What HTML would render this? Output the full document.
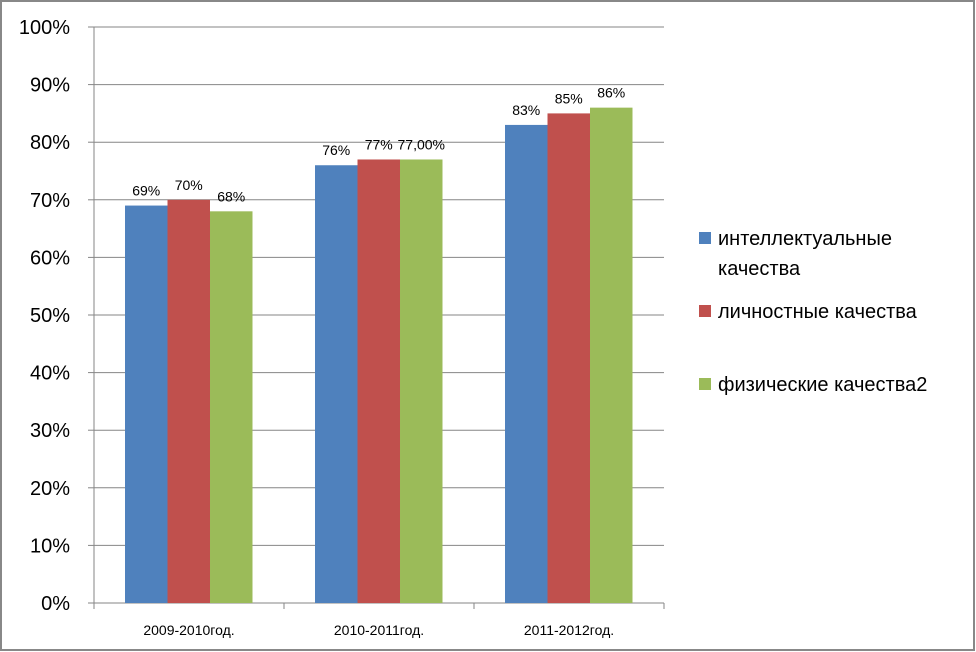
<!DOCTYPE html>
<html><head><meta charset="utf-8"><style>
body{margin:0;background:#fff;}
svg{display:block;font-family:"Liberation Sans","DejaVu Sans",sans-serif;}
</style></head><body>
<svg id="chart" width="976" height="652">
<rect x="1" y="1" width="973" height="649" fill="#fff" stroke="#888" stroke-width="2"/>
<g id="grid"></g><g id="bars"></g><g id="labels"></g><g id="axes"></g><g id="legend"></g>
</svg>
<script>
const categories=["2009-2010год.","2010-2011год.","2011-2012год."];
const seriesNames=["интеллектуальные качества","личностные  качества","физические качества2"];
const intellectual=[69,76,83];
const personal=[70,77,85];
const physical=[68,77,86];
const valueLabels=[["69%","76%","83%"],["70%","77%","85%"],["68%","77,00%","86%"]];
const yTicks=[0,10,20,30,40,50,60,70,80,90,100];
const colors=["#4f81bd","#c0504d","#9bbb59"];
const series=[intellectual,personal,physical];
const NS="http://www.w3.org/2000/svg";
const X0=94,X1=664,Y0=603,Y1=27;
const y=v=>Y0-(v/100)*(Y0-Y1);
const gw=(X1-X0)/categories.length,bw=42.5,off=31;
function mk(t,a,p,txt){const e=document.createElementNS(NS,t);for(const k in a)e.setAttribute(k,a[k]);if(txt!==undefined)e.textContent=txt;document.getElementById(p).appendChild(e);return e;}
yTicks.forEach(t=>{
 const l=mk("line",{x1:X0,x2:X1,y1:y(t),y2:y(t),stroke:t===0?"#868686":"#868686","stroke-width":1},"grid");
 
 
 const tk=mk("line",{x1:X0-6,x2:X0,y1:y(t),y2:y(t),stroke:"#868686"},"axes");
 
 
 const tx=mk("text",{x:70,y:y(t)+7,"text-anchor":"end","font-size":20,fill:"#000"},"axes",t+"%");
 
 
});
const ya=mk("line",{x1:X0,x2:X0,y1:Y1,y2:Y0,stroke:"#868686"},"axes");


for(let i=0;i<=categories.length;i++){
 const t=mk("line",{x1:X0+i*gw,x2:X0+i*gw,y1:Y0,y2:Y0+6,stroke:"#868686"},"axes");
 
 
}
categories.forEach((c,i)=>{
 const t=mk("text",{x:X0+i*gw+gw/2,y:635,"text-anchor":"middle","font-size":14},"axes",c);
 
 
 series.forEach((s,j)=>{
  const bx=X0+i*gw+off+j*bw;
  const r=mk("rect",{x:bx,y:y(s[i]),width:bw,height:Y0-y(s[i]),fill:colors[j]},"bars");
  
  
  const lb=mk("text",{x:bx+bw/2,y:y(s[i])-10,"text-anchor":"middle","font-size":14},"labels",valueLabels[j][i]);
  
  
 });
});
const lgY=[238,311,384];
seriesNames.forEach((n,j)=>{
 const r=mk("rect",{x:699,y:lgY[j]-6,width:12,height:12,fill:colors[j]},"legend");
 
 
 if(j===0){
  const t=mk("text",{x:718,y:lgY[j]+7,"font-size":20},"legend","интеллектуальные");
  
  
  const t2=mk("text",{x:718,y:lgY[j]+37,"font-size":20},"legend","качества");
  
  
 }else{
  const t=mk("text",{x:718,y:lgY[j]+7,"font-size":20,"xml:space":"preserve"},"legend",n);
  
  
 }
});
</script>
</body></html>
